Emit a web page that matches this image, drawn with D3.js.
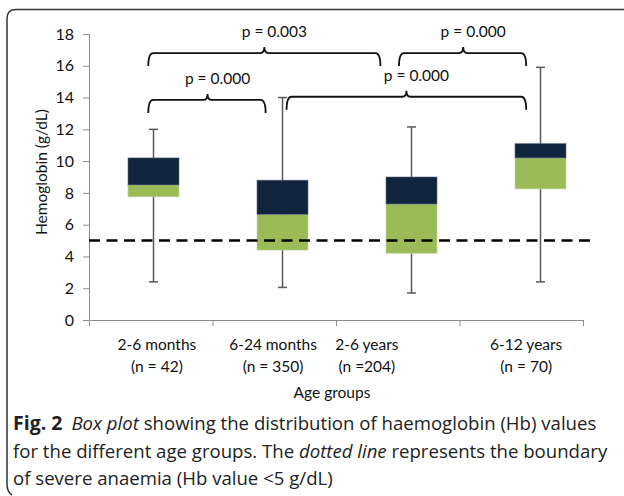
<!DOCTYPE html>
<html>
<head>
<meta charset="utf-8">
<script src="https://cdn.jsdelivr.net/npm/d3@7"></script>
<style>
  body { margin: 0; background: #fff; }
  svg { display: block; }
</style>
</head>
<body>
<script>
// values
const groups = ['2-6 months', '6-24 months', '2-6 years', '6-12 years']
const counts = ['(n = 42)', '(n = 350)', '(n =204)', '(n = 70)']
const whiskerLow = [2.4, 2.05, 1.7, 2.4]
const boxLow = [7.75, 4.4, 4.2, 8.25]
const medians = [8.5, 6.65, 7.3, 10.2]
const boxHigh = [10.2, 8.8, 9.0, 11.1]
const whiskerHigh = [12.0, 14.0, 12.15, 15.9]
const yTicks = [0, 2, 4, 6, 8, 10, 12, 14, 16, 18]
const severeLimit = 5

// comparison brackets, in axis units (0..4 across the x axis)
const pLabels = ['p = 0.000', 'p = 0.003', 'p = 0.000', 'p = 0.000']
const bracketFrom = [0.48, 0.48, 2.51, 1.60]
const bracketTo = [1.43, 2.36, 3.54, 3.54]
const bracketTip = [0.96, 1.42, 3.03, 2.57]
const bracketLevel = [13.85, 16.8, 16.8, 14.05]
// where the group labels sit along the axis (axis units)
const labelPos = [0.55, 1.49, 2.25, 3.54]

const W = 624, H = 496
const svg = d3.select('body').append('svg').attr('width', W).attr('height', H)
const font = 'Lato, "Open Sans", sans-serif'

// outer frame (open on right and bottom)
svg.append('path')
    .attr('d', 'M 624 9.5 L 16 9.5 Q 7 9.5 7 18.5 L 7 484 Q 7 492 12 495')
    .attr('fill', 'none').attr('stroke', '#333').attr('stroke-width', 1.5)

const y = d3.scaleLinear().domain([0, 18]).range([320, 34])
const xBox = d3.scalePoint().domain(groups).range([89, 605]).padding(0.5)
const xAxis = d3.scaleLinear().domain([0, 4]).range([89, 583])
const boxW = 51

// y axis
const gy = svg.append('g').attr('transform', 'translate(89,0)')
    .call(d3.axisLeft(y).tickValues(yTicks).tickSize(6).tickPadding(9))
gy.select('.domain').attr('stroke', '#8c8c8c').attr('d', 'M-6,34.5H0.5V320')
gy.selectAll('.tick line').attr('stroke', '#8c8c8c')
gy.selectAll('.tick text').attr('font-family', font).attr('font-size', 16).attr('fill', '#111')

// x axis
const gx = svg.append('g').attr('transform', 'translate(0,320)')
    .call(d3.axisBottom(xAxis).tickValues([1, 2, 3, 4]).tickSize(6).tickFormat(''))
gx.select('.domain').attr('stroke', '#8c8c8c')
gx.selectAll('.tick line').attr('stroke', '#8c8c8c')

const lab = svg.append('g').attr('font-family', font).attr('font-size', 15.5)
    .attr('fill', '#111').attr('text-anchor', 'middle')
groups.forEach((g, i) => {
    lab.append('text').attr('x', xAxis(labelPos[i])).attr('y', 350).text(g)
    lab.append('text').attr('x', xAxis(labelPos[i])).attr('y', 372).text(counts[i])
})
lab.append('text').attr('x', 332).attr('y', 398).text('Age groups')

svg.append('text')
    .attr('transform', 'translate(47,172) rotate(-90)')
    .attr('text-anchor', 'middle').attr('font-family', font).attr('font-size', 15.5)
    .attr('fill', '#111').text('Hemoglobin (g/dL)')

// whiskers
const wk = svg.append('g').attr('stroke', '#595959').attr('stroke-width', 1.5)
groups.forEach((g, i) => {
    const cx = xBox(g)
    wk.append('line').attr('x1', cx).attr('x2', cx)
        .attr('y1', y(whiskerLow[i])).attr('y2', y(whiskerHigh[i]))
    ;[whiskerLow[i], whiskerHigh[i]].forEach(v => {
        wk.append('line').attr('x1', cx - 4.5).attr('x2', cx + 4.5)
            .attr('y1', y(v)).attr('y2', y(v))
    })
})

// boxes
const bx = svg.append('g')
groups.forEach((g, i) => {
    const left = xBox(g) - boxW / 2
    bx.append('rect').attr('x', left).attr('width', boxW)
        .attr('y', y(medians[i])).attr('height', y(boxLow[i]) - y(medians[i]))
        .attr('fill', '#9bbb59').attr('stroke', '#c4d89a').attr('stroke-width', 0.6)
    bx.append('rect').attr('x', left).attr('width', boxW)
        .attr('y', y(boxHigh[i])).attr('height', y(medians[i]) - y(boxHigh[i]))
        .attr('fill', '#10243e').attr('stroke', '#5a6a80').attr('stroke-width', 0.6)
})

// severe anaemia boundary
svg.append('line')
    .attr('x1', 89).attr('x2', 596)
    .attr('y1', y(severeLimit)).attr('y2', y(severeLimit))
    .attr('stroke', '#000').attr('stroke-width', 2.6).attr('stroke-dasharray', '11,6.5')

// brackets
const br = svg.append('g')
pLabels.forEach((p, i) => {
    const x0 = xAxis(bracketFrom[i]), x1 = xAxis(bracketTo[i]), xt = xAxis(bracketTip[i])
    const ty = y(bracketLevel[i])
    const path = d3.path()
    path.moveTo(x0, ty + 13)
    path.quadraticCurveTo(x0, ty, x0 + 5, ty)
    path.lineTo(xt - 4, ty)
    path.quadraticCurveTo(xt, ty, xt, ty - 6)
    path.quadraticCurveTo(xt, ty, xt + 4, ty)
    path.lineTo(x1 - 5, ty)
    path.quadraticCurveTo(x1, ty, x1, ty + 13)
    br.append('path').attr('d', path.toString())
        .attr('fill', 'none').attr('stroke', '#111').attr('stroke-width', 1.8)
    br.append('text').attr('x', xt + 10).attr('y', ty - 16)
        .attr('text-anchor', 'middle').attr('font-family', font).attr('font-size', 15.5)
        .attr('fill', '#111').text(p)
})

// caption
const cap = svg.append('g').attr('font-family', '"Open Sans", sans-serif')
    .attr('font-size', 18.6).attr('fill', '#222')
const l1 = cap.append('text').attr('x', 13).attr('y', 430)
l1.append('tspan').attr('font-weight', 'bold').attr('font-size', 19.5).text('Fig. 2')
l1.append('tspan').attr('font-style', 'italic').attr('dx', 9).text('Box plot')
l1.append('tspan').text(' showing the distribution of haemoglobin (Hb) values')
const l2 = cap.append('text').attr('x', 13).attr('y', 457.5)
l2.append('tspan').text('for the different age groups. The ')
l2.append('tspan').attr('font-style', 'italic').text('dotted line')
l2.append('tspan').text(' represents the boundary')
cap.append('text').attr('x', 13).attr('y', 485).text('of severe anaemia (Hb value <5 g/dL)')
</script>
</body>
</html>
